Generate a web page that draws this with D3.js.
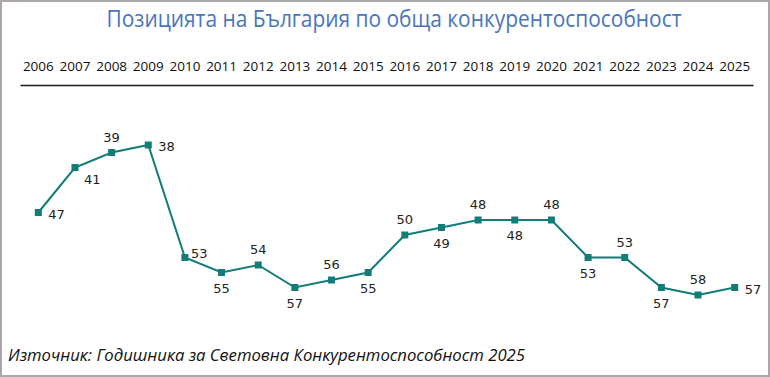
<!DOCTYPE html>
<html>
<head>
<meta charset="utf-8">
<script src="https://cdn.jsdelivr.net/npm/d3@7"></script>
<style>
  body { margin: 0; background: #fff; }
  svg { display: block; }
</style>
</head>
<body>
<div id="chart"></div>
<script>
// Data
const years = ['2006', '2007', '2008', '2009', '2010', '2011', '2012', '2013', '2014', '2015',
  '2016', '2017', '2018', '2019', '2020', '2021', '2022', '2023', '2024', '2025']
const ranks = [47, 41, 39, 38, 53, 55, 54, 57, 56, 55, 50, 49, 48, 48, 48, 53, 53, 57, 58, 57]
// where each value label sits: r = right, a = above, b = below, br / ar = beside
const labelPos = ['r', 'br', 'a', 'r', 'ar', 'b', 'a', 'b', 'a', 'b',
  'a', 'b', 'a', 'b', 'a', 'b', 'a', 'b', 'a', 'r']

const titleText = 'Позицията на България по обща конкурентоспособност'
const sourceText = 'Източник: Годишника за Световна Конкурентоспособност 2025'

// Dimensions
const dimensions = {
  width: 770,
  height: 377,
  axisLeft: 20,
  axisRight: 753,
  axisY: 85,
  plotTop: 145,
  plotBottom: 295
}

const color = '#127d78'

const svg = d3.select('#chart')
  .append('svg')
  .attr('width', dimensions.width)
  .attr('height', dimensions.height)

// frame
svg.append('rect')
  .attr('x', 1).attr('y', 1)
  .attr('width', dimensions.width - 2)
  .attr('height', dimensions.height - 2)
  .attr('fill', '#fff')
  .attr('stroke', '#aca6ac')
  .attr('stroke-width', 2)

// title
svg.append('text')
  .attr('x', 394)
  .attr('y', 27)
  .attr('text-anchor', 'middle')
  .attr('font-family', 'Open Sans, sans-serif')
  .attr('font-size', 23)
  .attr('fill', '#4a75bd')
  .attr('textLength', 575)
  .attr('lengthAdjust', 'spacingAndGlyphs')
  .text(titleText)

// Scales
const xScale = d3.scaleBand()
  .domain(years)
  .range([dimensions.axisLeft, dimensions.axisRight])

const yScale = d3.scaleLinear()
  .domain(d3.extent(ranks))
  .range([dimensions.plotTop, dimensions.plotBottom])

const cx = (d, i) => xScale(years[i]) + xScale.bandwidth() / 2

// Axis (years on top, black rule)
const xAxis = d3.axisTop(xScale)
  .tickSize(0)
  .tickPadding(14)

const axisGroup = svg.append('g')
  .attr('transform', `translate(0, ${dimensions.axisY})`)
  .call(xAxis)

axisGroup.select('.domain')
  .attr('stroke', '#1a1a1a')
  .attr('stroke-width', 1.3)
axisGroup.selectAll('text')
  .attr('font-family', 'Open Sans, sans-serif')
  .attr('font-size', 13.5)
  .attr('fill', '#111')

// Line
const line = d3.line()
  .x(cx)
  .y(d => yScale(d))

svg.append('path')
  .datum(ranks)
  .attr('fill', 'none')
  .attr('stroke', color)
  .attr('stroke-width', 2)
  .attr('d', line)

// Markers
svg.append('g')
  .selectAll('rect')
  .data(ranks)
  .join('rect')
  .attr('x', (d, i) => cx(d, i) - 3.5)
  .attr('y', d => yScale(d) - 3.5)
  .attr('width', 7)
  .attr('height', 7)
  .attr('fill', color)

// Value labels
const offsets = {
  r: { dx: 10, dy: 6, anchor: 'start' },
  br: { dx: 9, dy: 16, anchor: 'start' },
  ar: { dx: 6, dy: 0, anchor: 'start' },
  a: { dx: 0, dy: -11, anchor: 'middle' },
  b: { dx: 0, dy: 20, anchor: 'middle' }
}

svg.append('g')
  .selectAll('text')
  .data(ranks)
  .join('text')
  .attr('x', (d, i) => cx(d, i) + offsets[labelPos[i]].dx)
  .attr('y', (d, i) => yScale(d) + offsets[labelPos[i]].dy)
  .attr('text-anchor', (d, i) => offsets[labelPos[i]].anchor)
  .attr('font-family', 'DejaVu Sans, sans-serif')
  .attr('font-size', 13)
  .attr('fill', '#222')
  .text(d => d)

// Source note
svg.append('text')
  .attr('x', 8)
  .attr('y', 361)
  .attr('font-family', 'Open Sans, sans-serif')
  .attr('font-style', 'italic')
  .attr('font-size', 15.5)
  .attr('fill', '#111')
  .attr('textLength', 517)
  .attr('lengthAdjust', 'spacingAndGlyphs')
  .text(sourceText)
</script>
</body>
</html>
